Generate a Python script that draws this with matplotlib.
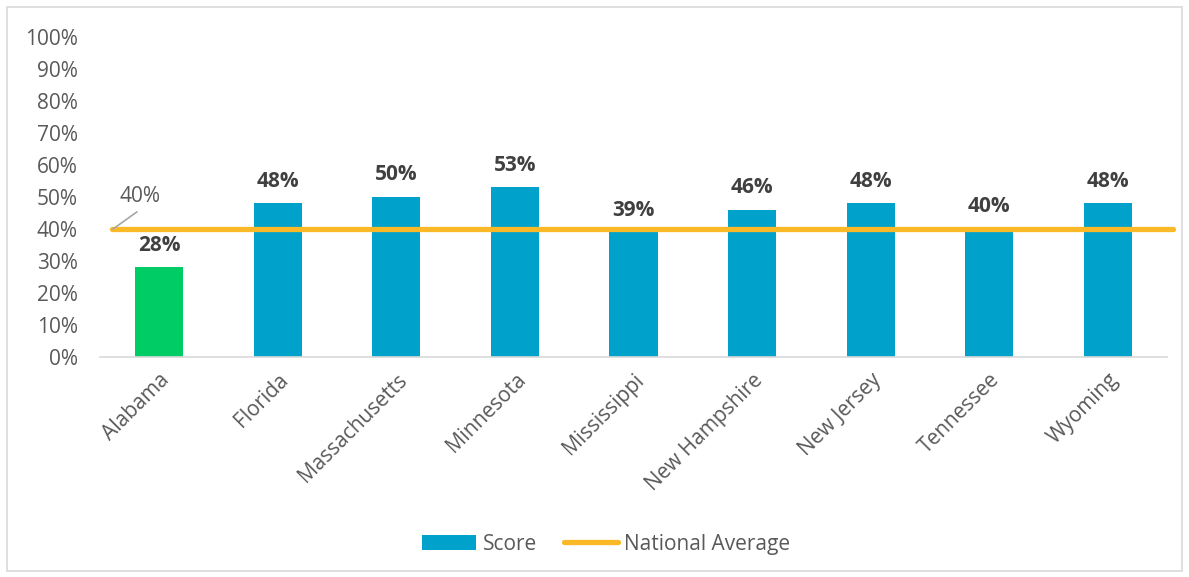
import numpy as np
import matplotlib.pyplot as plt
from matplotlib.patches import Rectangle
from matplotlib.lines import Line2D
from matplotlib.patches import Patch

plt.rcParams['font.family'] = ['Open Sans', 'DejaVu Sans']

states = ['Alabama', 'Florida', 'Massachusetts', 'Minnesota', 'Mississippi',
          'New Hampshire', 'New Jersey', 'Tennessee', 'Wyoming']
scores = [28, 48, 50, 53, 39, 46, 48, 40, 48]
national_avg = 40
yticks = list(range(0, 101, 10))

BLUE = '#00A1CB'
GREEN = '#00CC66'
ORANGE = '#FBB827'
GREY_TXT = '#595959'
DARK_TXT = '#404040'
FS = 15

fig = plt.figure(figsize=(11.89, 5.77), dpi=100)
ax = fig.add_axes([0.0841, 0.3813, 0.8974, 0.5546])

# outer chart border
fig.patches.append(Rectangle((0.006, 0.01), 0.988, 0.978, transform=fig.transFigure,
                             fill=False, edgecolor='#D9D9D9', linewidth=1.2))

x = np.arange(len(states))
colors = [GREEN] + [BLUE] * (len(states) - 1)
bars = ax.bar(x, scores, width=0.405, color=colors, zorder=2)

for xi, v in zip(x, scores):
    ax.text(xi, v + 3.6, f'{v}%', ha='center', va='bottom', fontsize=FS,
            fontweight='bold', color=DARK_TXT)

# national average line + its label with a leader line
ax.plot([-0.4, 8.55], [national_avg, national_avg], color=ORANGE, linewidth=3.8,
        solid_capstyle='round', zorder=3, clip_on=False)
ax.plot([-0.39, -0.19], [national_avg, national_avg + 5.3], color='#A6A6A6', lw=1.2, zorder=4)
ax.text(-0.16, national_avg + 6.8, f'{national_avg}%', fontsize=FS, color=GREY_TXT,
        ha='center', va='bottom')

ax.set_xlim(-0.5, 8.5)
ax.set_ylim(0, 100)
ax.set_yticks(yticks)
ax.set_yticklabels([f'{t}%' for t in yticks], fontsize=FS, color=GREY_TXT)
ax.set_xticks(x)
ax.set_xticklabels(states, rotation=45, ha='right', rotation_mode='anchor',
                   fontsize=FS, color=GREY_TXT)
ax.tick_params(axis='both', length=0)
ax.tick_params(axis='y', pad=16)
ax.tick_params(axis='x', pad=9)

for side in ['top', 'right', 'left']:
    ax.spines[side].set_visible(False)
ax.spines['bottom'].set_color('#D9D9D9')
ax.spines['bottom'].set_linewidth(1.2)

handles = [Patch(facecolor=BLUE), Line2D([0], [0], color=ORANGE, lw=3.8, solid_capstyle='round')]
fig.legend(handles, ['Score', 'National Average'], loc='center', bbox_to_anchor=(0.51, 0.057),
           ncol=2, frameon=False, fontsize=FS, labelcolor=GREY_TXT,
           handlelength=2.6, handletextpad=0.3, columnspacing=1.3)

fig.savefig('out.png', dpi=100)
